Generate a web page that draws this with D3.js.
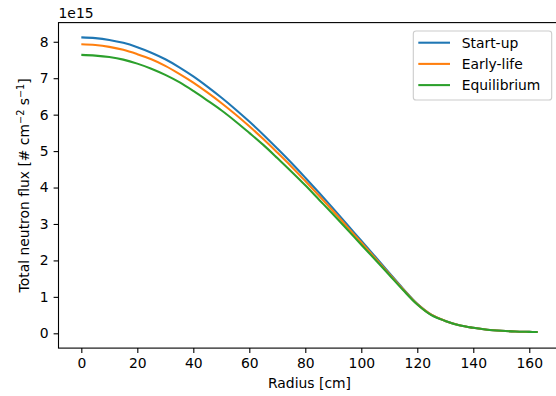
<!DOCTYPE html>
<html><head><meta charset="utf-8">
<script src="https://cdn.jsdelivr.net/npm/d3@7"></script>
<style>body{margin:0;background:#fff}svg{display:block}text{font-family:"DejaVu Sans",sans-serif;fill:#000}</style>
</head><body><svg id="c" width="556" height="396"></svg>
<script>
const radius = [0,5,10,15,20,25,30,35,40,45,50,55,60,65,70,75,80,85,90,95,100,105,110,115,120,125,130,135,140,145,150,155,160,163];
const startUp = [8.12,8.10,8.05,7.97,7.85,7.70,7.52,7.30,7.05,6.77,6.47,6.15,5.81,5.45,5.07,4.68,4.27,3.85,3.42,2.98,2.54,2.10,1.66,1.22,0.81,0.51,0.34,0.22,0.15,0.10,0.07,0.05,0.04,0.035];
const earlyLife = [7.93,7.91,7.86,7.78,7.66,7.52,7.34,7.12,6.88,6.61,6.32,6.01,5.68,5.33,4.96,4.58,4.18,3.77,3.35,2.92,2.49,2.06,1.63,1.20,0.80,0.51,0.34,0.22,0.15,0.10,0.07,0.05,0.04,0.035];
const equilibrium = [7.64,7.62,7.58,7.51,7.40,7.26,7.09,6.89,6.65,6.39,6.12,5.82,5.50,5.17,4.81,4.44,4.06,3.66,3.26,2.85,2.43,2.02,1.60,1.18,0.79,0.50,0.34,0.22,0.15,0.10,0.07,0.05,0.04,0.035];
const seriesNames = ["Start-up","Early-life","Equilibrium"];
const seriesColors = ["#1f77b4","#ff7f0e","#2ca02c"];
const xTicks = [0,20,40,60,80,100,120,140,160];
const yTicks = [0,1,2,3,4,5,6,7,8];

const svg = d3.select("#c");
const L = 58.5, R = 560.5, T = 22.6, B = 348.1;
const x = d3.scaleLinear().domain([-8.15,171.15]).range([L,R]);
const y = d3.scaleLinear().domain([-0.406,8.526]).range([B,T]);

const series = [startUp, earlyLife, equilibrium];
const line = d3.line().x(d=>x(d[0])).y(d=>y(d[1])).curve(d3.curveCatmullRom.alpha(0.5));
series.forEach((s,i)=>{
  svg.append("path").datum(radius.map((r,j)=>[r,s[j]]))
    .attr("d",line).attr("fill","none").attr("stroke",seriesColors[i]).attr("stroke-width",2.08);
});

const xa = svg.append("g").attr("transform",`translate(0,${B})`)
  .call(d3.axisBottom(x).tickValues(xTicks).tickSize(4.9).tickPadding(4.9));
const ya = svg.append("g").attr("transform",`translate(${L},0)`)
  .call(d3.axisLeft(y).tickValues(yTicks).tickSize(4.9).tickPadding(4.9));
[xa,ya].forEach(a=>{
  a.select(".domain").remove();
  a.selectAll("line").attr("stroke","#000").attr("stroke-width",1.1);
  a.selectAll("text").attr("font-size","13.9px").attr("font-family","DejaVu Sans");
});
// spines
svg.append("rect").attr("x",L).attr("y",T).attr("width",R-L).attr("height",B-T)
  .attr("fill","none").attr("stroke","#000").attr("stroke-width",1.1);

svg.append("text").attr("x",L).attr("y",18).attr("font-size","13.9px").text("1e15");
svg.append("text").attr("x",(L+R)/2).attr("y",388).attr("text-anchor","middle").attr("font-size","13.9px").text("Radius [cm]");
const yl = svg.append("text").attr("transform",`translate(29,${(T+B)/2}) rotate(-90)`)
  .attr("text-anchor","middle").attr("font-size","13.9px");
yl.append("tspan").text("Total neutron flux [# cm");
yl.append("tspan").attr("dy",-5).attr("font-size","9.7px").text("\u22122");
yl.append("tspan").attr("dy",5).text(" s");
yl.append("tspan").attr("dy",-5).attr("font-size","9.7px").text("\u22121");
yl.append("tspan").attr("dy",5).text("]");

// legend
const lg = svg.append("g");
lg.append("rect").attr("x",413.3).attr("y",31).attr("width",138.4).attr("height",69).attr("rx",2.8)
  .attr("fill","#fff").attr("fill-opacity",0.8).attr("stroke","#cccccc").attr("stroke-width",1.1);
seriesNames.forEach((n,i)=>{
  const yy = 42.7 + i*21.2;
  lg.append("line").attr("x1",418.3).attr("x2",450).attr("y1",yy).attr("y2",yy)
    .attr("stroke",seriesColors[i]).attr("stroke-width",2.08);
  lg.append("text").attr("x",461.7).attr("y",yy+5).attr("font-size","13.9px").text(n);
});
</script></body></html>
